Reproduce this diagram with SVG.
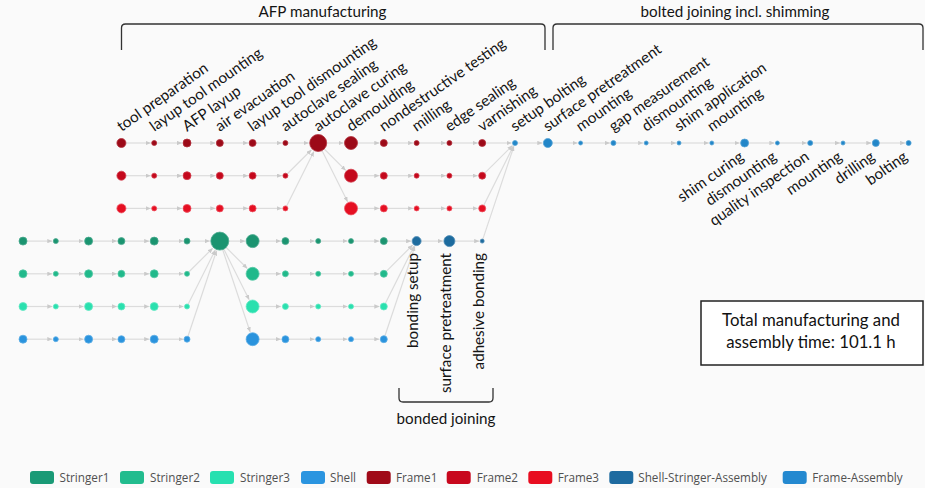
<svg xmlns="http://www.w3.org/2000/svg" width="925" height="488" viewBox="0 0 925 488">
<style>
.lbl{font-family:Lato,"Liberation Sans",sans-serif;font-size:15.2px;fill:#141414}
.brk{fill:none;stroke:#333;stroke-width:1.3}
.e{stroke:#dcdcdc;stroke-width:1.2;fill:none;marker-end:url(#ah)}
.f1{fill:#9c0a18;stroke:#b3303c;stroke-width:0.8}
.f2{fill:#c4081c;stroke:#d3404f;stroke-width:0.8}
.f3{fill:#e50f22;stroke:#ee5060;stroke-width:0.8}
.s1{fill:#1b9470;stroke:#4aaa8e;stroke-width:0.8}
.s2{fill:#21b98b;stroke:#55c9a6;stroke-width:0.8}
.s3{fill:#2ae0ae;stroke:#66e8c5;stroke-width:0.8}
.sh{fill:#2a93dd;stroke:#5eaee6;stroke-width:0.8}
.ssa{fill:#1d6b9e;stroke:#4e8cb5;stroke-width:0.8}
.fa{fill:#2286c8;stroke:#56a3d6;stroke-width:0.8}
.lg{font-family:"Open Sans","Liberation Sans",sans-serif;font-size:11.7px;fill:#505050}
.box{font-family:Lato,"Liberation Sans",sans-serif;font-size:16.8px;fill:#111;text-anchor:middle}
</style>
<defs>
<marker id="ah" markerUnits="userSpaceOnUse" markerWidth="5" markerHeight="4.4" refX="5" refY="2.2" orient="auto"><path d="M0,0 L5,2.2 L0,4.4 z" fill="#cacaca"/></marker>
</defs>
<rect x="0" y="0" width="925" height="488" fill="#fafafa"/>

<g id="brackets">
<path class="brk" d="M121.5,50 L121.5,28 Q121.5,24 125.5,24 L541,24 Q545,24 545,28 L545,50"/>
<text class="lbl" x="322.5" y="17" text-anchor="middle">AFP manufacturing</text>
<path class="brk" d="M553,50 L553,28 Q553,24 557,24 L919,24 Q923,24 923,28 L923,50"/>
<text class="lbl" x="735" y="17" text-anchor="middle">bolted joining incl. shimming</text>
<path class="brk" d="M399,388 L399,398 Q399,402 403,402 L489,402 Q493,402 493,398 L493,388"/>
<text class="lbl" x="446" y="424" text-anchor="middle">bonded joining</text>
</g>

<g id="connectors">
<line class="e" x1="121.4" y1="143" x2="150.7" y2="143"/>
<line class="e" x1="154.2" y1="143" x2="182" y2="143"/>
<line class="e" x1="187" y1="143" x2="215.3" y2="143"/>
<line class="e" x1="219.8" y1="143" x2="248.1" y2="143"/>
<line class="e" x1="252.6" y1="143" x2="281.9" y2="143"/>
<line class="e" x1="285.4" y1="143" x2="308.7" y2="143"/>
<line class="e" x1="318.2" y1="143" x2="343.5" y2="143"/>
<line class="e" x1="351" y1="143" x2="379.3" y2="143"/>
<line class="e" x1="383.8" y1="143" x2="413.1" y2="143"/>
<line class="e" x1="416.6" y1="143" x2="445.9" y2="143"/>
<line class="e" x1="449.4" y1="143" x2="477.7" y2="143"/>
<line class="e" x1="482.2" y1="143" x2="511.5" y2="143"/>
<line class="e" x1="515" y1="143" x2="542.3" y2="143"/>
<line class="e" x1="547.8" y1="143" x2="577.6" y2="143"/>
<line class="e" x1="580.6" y1="143" x2="609.9" y2="143"/>
<line class="e" x1="613.4" y1="143" x2="643.2" y2="143"/>
<line class="e" x1="646.2" y1="143" x2="676" y2="143"/>
<line class="e" x1="679" y1="143" x2="708.8" y2="143"/>
<line class="e" x1="711.8" y1="143" x2="739.6" y2="143"/>
<line class="e" x1="744.6" y1="143" x2="774.4" y2="143"/>
<line class="e" x1="777.4" y1="143" x2="806.7" y2="143"/>
<line class="e" x1="810.2" y1="143" x2="840" y2="143"/>
<line class="e" x1="843" y1="143" x2="871.3" y2="143"/>
<line class="e" x1="875.8" y1="143" x2="905.1" y2="143"/>
<line class="e" x1="121.4" y1="175.7" x2="150.7" y2="175.7"/>
<line class="e" x1="154.2" y1="175.7" x2="182" y2="175.7"/>
<line class="e" x1="187" y1="175.7" x2="215.3" y2="175.7"/>
<line class="e" x1="219.8" y1="175.7" x2="248.1" y2="175.7"/>
<line class="e" x1="252.6" y1="175.7" x2="281.9" y2="175.7"/>
<line class="e" x1="351" y1="175.7" x2="379.3" y2="175.7"/>
<line class="e" x1="383.8" y1="175.7" x2="413.1" y2="175.7"/>
<line class="e" x1="416.6" y1="175.7" x2="445.9" y2="175.7"/>
<line class="e" x1="449.4" y1="175.7" x2="477.7" y2="175.7"/>
<line class="e" x1="121.4" y1="208.4" x2="150.7" y2="208.4"/>
<line class="e" x1="154.2" y1="208.4" x2="182" y2="208.4"/>
<line class="e" x1="187" y1="208.4" x2="215.3" y2="208.4"/>
<line class="e" x1="219.8" y1="208.4" x2="248.1" y2="208.4"/>
<line class="e" x1="252.6" y1="208.4" x2="281.9" y2="208.4"/>
<line class="e" x1="351" y1="208.4" x2="379.3" y2="208.4"/>
<line class="e" x1="383.8" y1="208.4" x2="413.1" y2="208.4"/>
<line class="e" x1="416.6" y1="208.4" x2="445.9" y2="208.4"/>
<line class="e" x1="449.4" y1="208.4" x2="477.7" y2="208.4"/>
<line class="e" x1="285.4" y1="175.7" x2="311.5" y2="149.7"/>
<line class="e" x1="285.4" y1="208.4" x2="313.9" y2="151.5"/>
<line class="e" x1="318.2" y1="143" x2="345.7" y2="170.4"/>
<line class="e" x1="318.2" y1="143" x2="347.6" y2="201.7"/>
<line class="e" x1="482.2" y1="175.7" x2="512.5" y2="145.5"/>
<line class="e" x1="482.2" y1="208.4" x2="513.4" y2="146.1"/>
<line class="e" x1="482.2" y1="241.1" x2="513.9" y2="146.3"/>
<line class="e" x1="23" y1="241.1" x2="52.3" y2="241.1"/>
<line class="e" x1="55.8" y1="241.1" x2="83.6" y2="241.1"/>
<line class="e" x1="88.6" y1="241.1" x2="116.9" y2="241.1"/>
<line class="e" x1="121.4" y1="241.1" x2="149.2" y2="241.1"/>
<line class="e" x1="154.2" y1="241.1" x2="183.5" y2="241.1"/>
<line class="e" x1="187" y1="241.1" x2="209.8" y2="241.1"/>
<line class="e" x1="219.8" y1="241.1" x2="245.1" y2="241.1"/>
<line class="e" x1="252.6" y1="241.1" x2="280.9" y2="241.1"/>
<line class="e" x1="285.4" y1="241.1" x2="314.7" y2="241.1"/>
<line class="e" x1="318.2" y1="241.1" x2="347.5" y2="241.1"/>
<line class="e" x1="351" y1="241.1" x2="379.3" y2="241.1"/>
<line class="e" x1="383.8" y1="241.1" x2="411.1" y2="241.1"/>
<line class="e" x1="416.6" y1="241.1" x2="442.9" y2="241.1"/>
<line class="e" x1="449.4" y1="241.1" x2="479.2" y2="241.1"/>
<line class="e" x1="23" y1="273.8" x2="52.3" y2="273.8"/>
<line class="e" x1="55.8" y1="273.8" x2="83.6" y2="273.8"/>
<line class="e" x1="88.6" y1="273.8" x2="116.9" y2="273.8"/>
<line class="e" x1="121.4" y1="273.8" x2="149.2" y2="273.8"/>
<line class="e" x1="154.2" y1="273.8" x2="183.5" y2="273.8"/>
<line class="e" x1="252.6" y1="273.8" x2="280.9" y2="273.8"/>
<line class="e" x1="285.4" y1="273.8" x2="314.7" y2="273.8"/>
<line class="e" x1="318.2" y1="273.8" x2="347.5" y2="273.8"/>
<line class="e" x1="351" y1="273.8" x2="379.3" y2="273.8"/>
<line class="e" x1="23" y1="306.5" x2="52.3" y2="306.5"/>
<line class="e" x1="55.8" y1="306.5" x2="83.6" y2="306.5"/>
<line class="e" x1="88.6" y1="306.5" x2="116.9" y2="306.5"/>
<line class="e" x1="121.4" y1="306.5" x2="149.2" y2="306.5"/>
<line class="e" x1="154.2" y1="306.5" x2="183.5" y2="306.5"/>
<line class="e" x1="252.6" y1="306.5" x2="280.9" y2="306.5"/>
<line class="e" x1="285.4" y1="306.5" x2="314.7" y2="306.5"/>
<line class="e" x1="318.2" y1="306.5" x2="347.5" y2="306.5"/>
<line class="e" x1="351" y1="306.5" x2="379.3" y2="306.5"/>
<line class="e" x1="23" y1="339.2" x2="52.3" y2="339.2"/>
<line class="e" x1="55.8" y1="339.2" x2="83.6" y2="339.2"/>
<line class="e" x1="88.6" y1="339.2" x2="116.9" y2="339.2"/>
<line class="e" x1="121.4" y1="339.2" x2="149.2" y2="339.2"/>
<line class="e" x1="154.2" y1="339.2" x2="183.5" y2="339.2"/>
<line class="e" x1="252.6" y1="339.2" x2="280.9" y2="339.2"/>
<line class="e" x1="285.4" y1="339.2" x2="314.7" y2="339.2"/>
<line class="e" x1="318.2" y1="339.2" x2="347.5" y2="339.2"/>
<line class="e" x1="351" y1="339.2" x2="379.3" y2="339.2"/>
<line class="e" x1="187" y1="273.8" x2="212.7" y2="248.2"/>
<line class="e" x1="187" y1="306.5" x2="215.3" y2="250"/>
<line class="e" x1="187" y1="339.2" x2="216.6" y2="250.6"/>
<line class="e" x1="219.8" y1="241.1" x2="247.3" y2="268.5"/>
<line class="e" x1="219.8" y1="241.1" x2="249.2" y2="299.8"/>
<line class="e" x1="219.8" y1="241.1" x2="250.2" y2="332.1"/>
<line class="e" x1="383.8" y1="273.8" x2="412.7" y2="245"/>
<line class="e" x1="383.8" y1="306.5" x2="414.1" y2="246"/>
<line class="e" x1="383.8" y1="339.2" x2="414.9" y2="246.3"/>
</g>

<g id="frame1">
<g id="f1-tool-preparation"><circle class="f1" cx="121.4" cy="143" r="4.5"/><text class="lbl" transform="translate(121.4,132) rotate(-35)">tool preparation</text></g>
<g id="f1-layup-tool-mounting"><circle class="f1" cx="154.2" cy="143" r="2.5"/><text class="lbl" transform="translate(154.2,132) rotate(-35)">layup tool mounting</text></g>
<g id="f1-afp-layup"><circle class="f1" cx="187" cy="143" r="4"/><text class="lbl" transform="translate(187,132) rotate(-35)">AFP layup</text></g>
<g id="f1-air-evacuation"><circle class="f1" cx="219.8" cy="143" r="3.5"/><text class="lbl" transform="translate(219.8,132) rotate(-35)">air evacuation</text></g>
<g id="f1-layup-tool-dismounting"><circle class="f1" cx="252.6" cy="143" r="3.5"/><text class="lbl" transform="translate(252.6,132) rotate(-35)">layup tool dismounting</text></g>
<g id="f1-autoclave-sealing"><circle class="f1" cx="285.4" cy="143" r="2.5"/><text class="lbl" transform="translate(285.4,132) rotate(-35)">autoclave sealing</text></g>
<g id="f-autoclave-curing"><circle class="f1" cx="318.2" cy="143" r="8.5"/><text class="lbl" transform="translate(318.2,132) rotate(-35)">autoclave curing</text></g>
<g id="f1-demoulding"><circle class="f1" cx="351" cy="143" r="6.5"/><text class="lbl" transform="translate(351,132) rotate(-35)">demoulding</text></g>
<g id="f1-ndt"><circle class="f1" cx="383.8" cy="143" r="3.5"/><text class="lbl" transform="translate(383.8,132) rotate(-35)">nondestructive testing</text></g>
<g id="f1-milling"><circle class="f1" cx="416.6" cy="143" r="2.5"/><text class="lbl" transform="translate(416.6,132) rotate(-35)">milling</text></g>
<g id="f1-edge-sealing"><circle class="f1" cx="449.4" cy="143" r="2.5"/><text class="lbl" transform="translate(449.4,132) rotate(-35)">edge sealing</text></g>
<g id="f1-varnishing"><circle class="f1" cx="482.2" cy="143" r="3.5"/><text class="lbl" transform="translate(482.2,132) rotate(-35)">varnishing</text></g>
</g>

<g id="frame2">
<g id="f2-1"><circle class="f2" cx="121.4" cy="175.7" r="4.5"/></g>
<g id="f2-2"><circle class="f2" cx="154.2" cy="175.7" r="2.5"/></g>
<g id="f2-3"><circle class="f2" cx="187" cy="175.7" r="4"/></g>
<g id="f2-4"><circle class="f2" cx="219.8" cy="175.7" r="3.5"/></g>
<g id="f2-5"><circle class="f2" cx="252.6" cy="175.7" r="3.5"/></g>
<g id="f2-6"><circle class="f2" cx="285.4" cy="175.7" r="2.5"/></g>
<g id="f2-8"><circle class="f2" cx="351" cy="175.7" r="6.5"/></g>
<g id="f2-9"><circle class="f2" cx="383.8" cy="175.7" r="3.5"/></g>
<g id="f2-10"><circle class="f2" cx="416.6" cy="175.7" r="2.5"/></g>
<g id="f2-11"><circle class="f2" cx="449.4" cy="175.7" r="2.5"/></g>
<g id="f2-12"><circle class="f2" cx="482.2" cy="175.7" r="3.5"/></g>
</g>

<g id="frame3">
<g id="f3-1"><circle class="f3" cx="121.4" cy="208.4" r="4.5"/></g>
<g id="f3-2"><circle class="f3" cx="154.2" cy="208.4" r="2.5"/></g>
<g id="f3-3"><circle class="f3" cx="187" cy="208.4" r="4"/></g>
<g id="f3-4"><circle class="f3" cx="219.8" cy="208.4" r="3.5"/></g>
<g id="f3-5"><circle class="f3" cx="252.6" cy="208.4" r="3.5"/></g>
<g id="f3-6"><circle class="f3" cx="285.4" cy="208.4" r="2.5"/></g>
<g id="f3-8"><circle class="f3" cx="351" cy="208.4" r="6.5"/></g>
<g id="f3-9"><circle class="f3" cx="383.8" cy="208.4" r="3.5"/></g>
<g id="f3-10"><circle class="f3" cx="416.6" cy="208.4" r="2.5"/></g>
<g id="f3-11"><circle class="f3" cx="449.4" cy="208.4" r="2.5"/></g>
<g id="f3-12"><circle class="f3" cx="482.2" cy="208.4" r="3.5"/></g>
</g>

<g id="frame-assembly">
<g id="fa-setup-bolting"><circle class="fa" cx="515" cy="143" r="2.5"/><text class="lbl" transform="translate(515,132) rotate(-35)">setup bolting</text></g>
<g id="fa-surface-pretreatment"><circle class="fa" cx="547.8" cy="143" r="4.5"/><text class="lbl" transform="translate(547.8,132) rotate(-35)">surface pretreatment</text></g>
<g id="fa-mounting-1"><circle class="fa" cx="580.6" cy="143" r="2"/><text class="lbl" transform="translate(580.6,132) rotate(-35)">mounting</text></g>
<g id="fa-gap-measurement"><circle class="fa" cx="613.4" cy="143" r="2.5"/><text class="lbl" transform="translate(613.4,132) rotate(-35)">gap measurement</text></g>
<g id="fa-dismounting-1"><circle class="fa" cx="646.2" cy="143" r="2"/><text class="lbl" transform="translate(646.2,132) rotate(-35)">dismounting</text></g>
<g id="fa-shim-application"><circle class="fa" cx="679" cy="143" r="2"/><text class="lbl" transform="translate(679,132) rotate(-35)">shim application</text></g>
<g id="fa-mounting-2"><circle class="fa" cx="711.8" cy="143" r="2"/><text class="lbl" transform="translate(711.8,132) rotate(-35)">mounting</text></g>
<g id="fa-shim-curing"><circle class="fa" cx="744.6" cy="143" r="4"/><text class="lbl" text-anchor="end" transform="translate(744.6,159) rotate(-35)">shim curing</text></g>
<g id="fa-dismounting-2"><circle class="fa" cx="777.4" cy="143" r="2"/><text class="lbl" text-anchor="end" transform="translate(777.4,159) rotate(-35)">dismounting</text></g>
<g id="fa-quality-inspection"><circle class="fa" cx="810.2" cy="143" r="2.5"/><text class="lbl" text-anchor="end" transform="translate(810.2,159) rotate(-35)">quality inspection</text></g>
<g id="fa-mounting-3"><circle class="fa" cx="843" cy="143" r="2"/><text class="lbl" text-anchor="end" transform="translate(843,159) rotate(-35)">mounting</text></g>
<g id="fa-drilling"><circle class="fa" cx="875.8" cy="143" r="3.5"/><text class="lbl" text-anchor="end" transform="translate(875.8,159) rotate(-35)">drilling</text></g>
<g id="fa-bolting"><circle class="fa" cx="908.6" cy="143" r="2.5"/><text class="lbl" text-anchor="end" transform="translate(908.6,159) rotate(-35)">bolting</text></g>
</g>

<g id="stringer1">
<g id="s1-0"><circle class="s1" cx="23" cy="241.1" r="4"/></g>
<g id="s1-1"><circle class="s1" cx="55.8" cy="241.1" r="2.5"/></g>
<g id="s1-2"><circle class="s1" cx="88.6" cy="241.1" r="4"/></g>
<g id="s1-3"><circle class="s1" cx="121.4" cy="241.1" r="3.5"/></g>
<g id="s1-4"><circle class="s1" cx="154.2" cy="241.1" r="4"/></g>
<g id="s1-5"><circle class="s1" cx="187" cy="241.1" r="3"/></g>
<g id="s-big"><circle class="s1" cx="219.8" cy="241.1" r="9"/></g>
<g id="s1-7"><circle class="s1" cx="252.6" cy="241.1" r="6.5"/></g>
<g id="s1-8"><circle class="s1" cx="285.4" cy="241.1" r="3.5"/></g>
<g id="s1-9"><circle class="s1" cx="318.2" cy="241.1" r="2.5"/></g>
<g id="s1-10"><circle class="s1" cx="351" cy="241.1" r="2.5"/></g>
<g id="s1-11"><circle class="s1" cx="383.8" cy="241.1" r="3.5"/></g>
</g>

<g id="stringer2">
<g id="s2-0"><circle class="s2" cx="23" cy="273.8" r="4"/></g>
<g id="s2-1"><circle class="s2" cx="55.8" cy="273.8" r="2.5"/></g>
<g id="s2-2"><circle class="s2" cx="88.6" cy="273.8" r="4"/></g>
<g id="s2-3"><circle class="s2" cx="121.4" cy="273.8" r="3.5"/></g>
<g id="s2-4"><circle class="s2" cx="154.2" cy="273.8" r="4"/></g>
<g id="s2-5"><circle class="s2" cx="187" cy="273.8" r="2.5"/></g>
<g id="s2-7"><circle class="s2" cx="252.6" cy="273.8" r="6.5"/></g>
<g id="s2-8"><circle class="s2" cx="285.4" cy="273.8" r="3"/></g>
<g id="s2-9"><circle class="s2" cx="318.2" cy="273.8" r="2.5"/></g>
<g id="s2-10"><circle class="s2" cx="351" cy="273.8" r="2.5"/></g>
<g id="s2-11"><circle class="s2" cx="383.8" cy="273.8" r="3.5"/></g>
</g>

<g id="stringer3">
<g id="s3-0"><circle class="s3" cx="23" cy="306.5" r="4"/></g>
<g id="s3-1"><circle class="s3" cx="55.8" cy="306.5" r="2.5"/></g>
<g id="s3-2"><circle class="s3" cx="88.6" cy="306.5" r="4"/></g>
<g id="s3-3"><circle class="s3" cx="121.4" cy="306.5" r="3.5"/></g>
<g id="s3-4"><circle class="s3" cx="154.2" cy="306.5" r="4"/></g>
<g id="s3-5"><circle class="s3" cx="187" cy="306.5" r="2.5"/></g>
<g id="s3-7"><circle class="s3" cx="252.6" cy="306.5" r="6.5"/></g>
<g id="s3-8"><circle class="s3" cx="285.4" cy="306.5" r="3"/></g>
<g id="s3-9"><circle class="s3" cx="318.2" cy="306.5" r="2.5"/></g>
<g id="s3-10"><circle class="s3" cx="351" cy="306.5" r="2.5"/></g>
<g id="s3-11"><circle class="s3" cx="383.8" cy="306.5" r="3.5"/></g>
</g>

<g id="shell">
<g id="sh-0"><circle class="sh" cx="23" cy="339.2" r="4"/></g>
<g id="sh-1"><circle class="sh" cx="55.8" cy="339.2" r="2.5"/></g>
<g id="sh-2"><circle class="sh" cx="88.6" cy="339.2" r="4"/></g>
<g id="sh-3"><circle class="sh" cx="121.4" cy="339.2" r="3.5"/></g>
<g id="sh-4"><circle class="sh" cx="154.2" cy="339.2" r="4"/></g>
<g id="sh-5"><circle class="sh" cx="187" cy="339.2" r="3"/></g>
<g id="sh-7"><circle class="sh" cx="252.6" cy="339.2" r="6.5"/></g>
<g id="sh-8"><circle class="sh" cx="285.4" cy="339.2" r="3.5"/></g>
<g id="sh-9"><circle class="sh" cx="318.2" cy="339.2" r="2.5"/></g>
<g id="sh-10"><circle class="sh" cx="351" cy="339.2" r="2.5"/></g>
<g id="sh-11"><circle class="sh" cx="383.8" cy="339.2" r="3.5"/></g>
</g>

<g id="shell-stringer-assembly">
<g id="ssa-bonding-setup"><circle class="ssa" cx="416.6" cy="241.1" r="4.5"/><text class="lbl" text-anchor="end" transform="translate(418.1,253) rotate(-90)">bonding setup</text></g>
<g id="ssa-surface-pretreatment"><circle class="ssa" cx="449.4" cy="241.1" r="5.5"/><text class="lbl" text-anchor="end" transform="translate(450.9,253) rotate(-90)">surface pretreatment</text></g>
<g id="ssa-adhesive-bonding"><circle class="ssa" cx="482.2" cy="241.1" r="2"/><text class="lbl" text-anchor="end" transform="translate(483.7,253) rotate(-90)">adhesive bonding</text></g>
</g>

<g id="total-box">
<rect x="701" y="301" width="222" height="64" fill="#fff" stroke="#222" stroke-width="1.5"/>
<text class="box" x="811" y="326">Total manufacturing and</text>
<text class="box" x="811" y="348">assembly time: 101.1 h</text>
</g>

<g id="legend">
<rect x="30" y="471" width="24" height="13" rx="3" fill="#1a9a76"/><text class="lg" x="59.5" y="481.5">Stringer1</text>
<rect x="120" y="471" width="24" height="13" rx="3" fill="#22bc8e"/><text class="lg" x="150" y="481.5">Stringer2</text>
<rect x="210" y="471" width="24" height="13" rx="3" fill="#27e0b0"/><text class="lg" x="240" y="481.5">Stringer3</text>
<rect x="301" y="471" width="24" height="13" rx="3" fill="#2b95e0"/><text class="lg" x="330" y="481.5">Shell</text>
<rect x="366.7" y="471" width="24" height="13" rx="3" fill="#a00a18"/><text class="lg" x="396" y="481.5">Frame1</text>
<rect x="446.7" y="471" width="24" height="13" rx="3" fill="#c8071d"/><text class="lg" x="476.7" y="481.5">Frame2</text>
<rect x="528.3" y="471" width="24" height="13" rx="3" fill="#e80d20"/><text class="lg" x="557.7" y="481.5">Frame3</text>
<rect x="609.3" y="471" width="24" height="13" rx="3" fill="#1e6ba0"/><text class="lg" x="638.3" y="481.5">Shell-Stringer-Assembly</text>
<rect x="782.7" y="471" width="24" height="13" rx="3" fill="#2489d0"/><text class="lg" x="812.3" y="481.5">Frame-Assembly</text>
</g>
</svg>
